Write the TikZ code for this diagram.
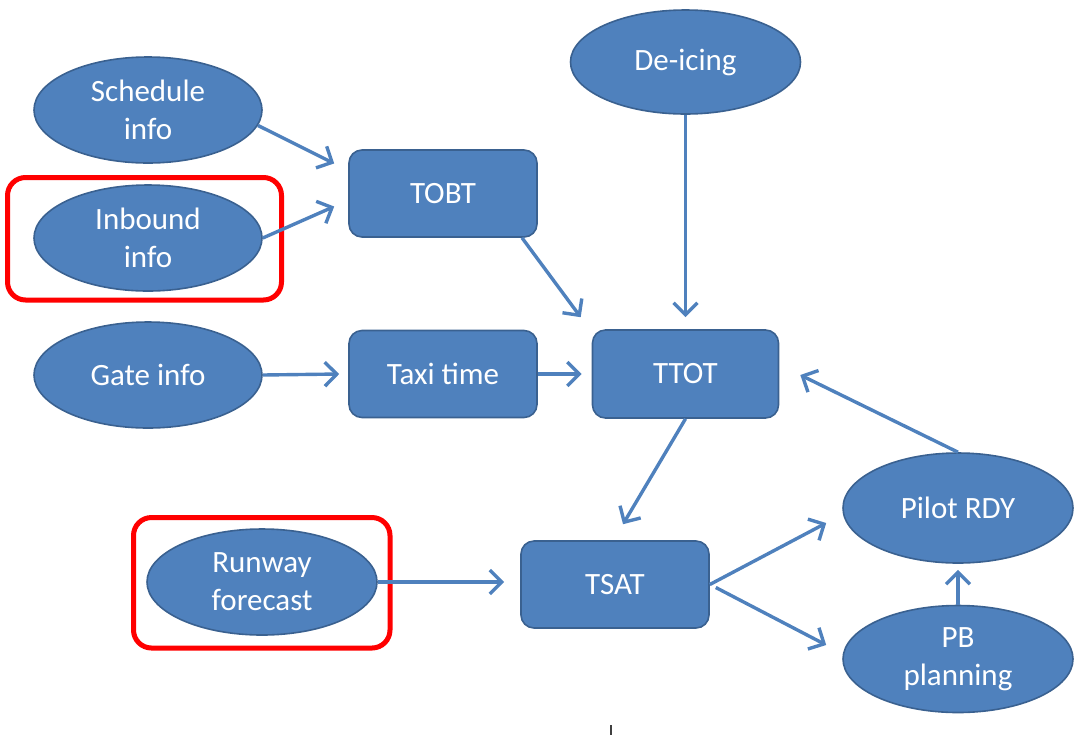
\documentclass[tikz,border=0pt]{standalone}
\usepackage{fontspec}
\setmainfont{Carlito}
\usetikzlibrary{shapes.geometric,arrows.meta,calc}
\definecolor{boxblue}{HTML}{4F81BD}
\definecolor{boxedge}{HTML}{3A6190}
\definecolor{hired}{HTML}{FF0000}
\tikzset{
  base/.style={fill=boxblue, draw=boxedge, line width=1.6pt, text=white,
    inner sep=0pt, align=center, font=\fontsize{31}{38}\selectfont},
  oval/.style={base, ellipse, minimum width=228pt, minimum height=106pt},
  stepbox/.style={base, rectangle, rounded corners=13pt, minimum width=188pt, minimum height=87pt},
  flow/.style={draw=boxblue, line width=3.4pt, -{Straight Barb[length=12pt,width=24pt,line width=3.4pt]}},
  redframe/.style={draw=hired, line width=5pt, rounded corners=18pt}
}
\begin{document}
\begin{tikzpicture}[x=1pt, y=-1pt]
\useasboundingbox (0,0) rectangle (1078,740);

% inputs on the left
\node[oval] (sched) at (148,110) {Schedule\\info};
\node[oval] (inb) at (148,238) {Inbound\\info};
\node[oval] (gate) at (148,375) {Gate info};
\node[oval, minimum width=230pt] (runway) at (262,582) {Runway\\forecast};
\node[oval, minimum width=230pt, minimum height=104pt] (deice) at (685.5,62) {De-icing};

% time estimates
\node[stepbox] (tobt) at (443,193.5) {TOBT};
\node[stepbox] (taxi) at (443,374) {Taxi time};
\node[stepbox, minimum width=186pt, minimum height=88pt] (ttot) at (685.5,374) {TTOT};
\node[stepbox] (tsat) at (615,584.5) {TSAT};

% outputs on the right
\node[oval, minimum width=230pt, minimum height=110pt] (pilot) at (958,508) {Pilot RDY};
\node[oval, minimum width=230pt, minimum height=107pt] (pb) at (958,659) {PB\\planning};

% highlighted inputs
\draw[redframe] (7.5,177.5) rectangle (281.5,300);
\draw[redframe] (133.5,517.5) rectangle (390,648);

% flows
\draw[flow] (sched.-8) -- ([shift={(-14pt,30pt)}]tobt.west);
\draw[flow] (inb.east) -- ([shift={(-14pt,-13pt)}]tobt.west);
\draw[flow] ([xshift=79pt]tobt.south) -- ([shift={(-11pt,12pt)}]ttot.north west);
\draw[flow] (deice.south) -- ([yshift=12pt]ttot.north);
\draw[flow] (gate.east) -- ([xshift=-9pt]taxi.west);
\draw[flow] (taxi.east) -- ([xshift=-10pt]ttot.west);
\draw[flow] (ttot.south) -- ([shift={(8pt,16pt)}]tsat.north);
\draw[flow] (pilot.north) -- ([shift={(21pt,-1pt)}]ttot.east);
\draw[flow] (tsat.east) -- ([shift={(-16pt,-15pt)}]pilot.west);
\draw[flow] ([shift={(6pt,-3pt)}]tsat.east) -- ([shift={(-16pt,14pt)}]pb.west);
\draw[flow] (runway.east) -- ($(tsat.west |- runway.east)+(-16pt,0)$);
\draw[flow] (pb.north) -- ([yshift=-6pt]pilot.south);

% small tick below the chart
\coordinate (tickA) at (611,725);
\coordinate (tickB) at (611,735);
\draw[line width=2pt, draw=black!75] (tickA) -- (tickB);
\end{tikzpicture}
\end{document}
